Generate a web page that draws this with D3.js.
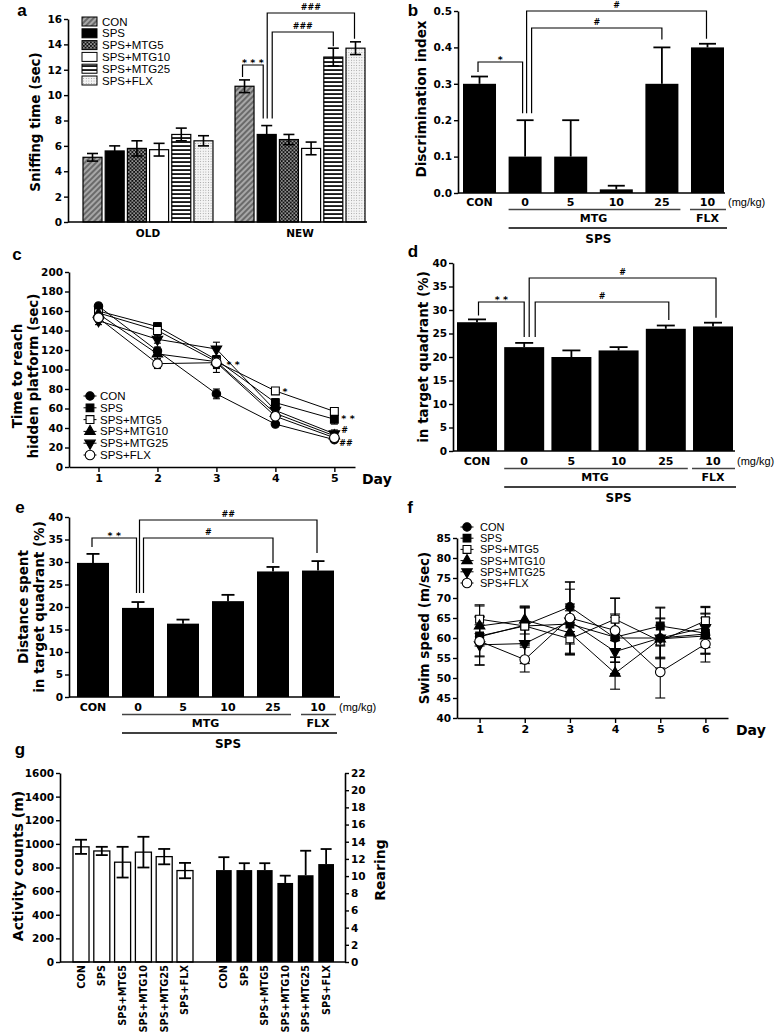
<!DOCTYPE html>
<html><head><meta charset="utf-8">
<script src="https://cdn.jsdelivr.net/npm/d3@7"></script>
<style>body{margin:0;background:#fff}svg{display:block}</style>
</head><body>
<svg id="fig" width="776" height="1035"></svg>
<script>
// ================= DATA =================
// panel a
const aGroups = ["OLD", "NEW"];
const aSeries = ["CON", "SPS", "SPS+MTG5", "SPS+MTG10", "SPS+MTG25", "SPS+FLX"];
const aOldMean = [5.1, 5.6, 5.8, 5.7, 6.9, 6.4];
const aOldErr  = [0.3, 0.4, 0.6, 0.5, 0.5, 0.4];
const aNewMean = [10.7, 6.9, 6.5, 5.8, 13.0, 13.7];
const aNewErr  = [0.5, 0.7, 0.4, 0.5, 0.7, 0.5];
const aTicks = [0, 2, 4, 6, 8, 10, 12, 14, 16];
// panels b, d, e
const doseLabels = ["CON", "0", "5", "10", "25", "10"];
const bMean = [0.30, 0.10, 0.10, 0.01, 0.30, 0.40];
const bErr  = [0.02, 0.10, 0.10, 0.01, 0.10, 0.01];
const bTicks = [0, 0.1, 0.2, 0.3, 0.4, 0.5];
const dMean = [27.4, 22.1, 20.0, 21.4, 26.0, 26.5];
const dErr  = [0.6, 0.9, 1.4, 0.7, 0.7, 0.8];
const eMean = [29.8, 19.8, 16.3, 21.3, 27.9, 28.1];
const eErr  = [2.0, 1.3, 0.9, 1.4, 1.0, 2.1];
const pctTicks = [0, 5, 10, 15, 20, 25, 30, 35, 40];
// panel c
const cDays = [1, 2, 3, 4, 5];
const cTicks = [0, 20, 40, 60, 80, 100, 120, 140, 160, 180, 200];
const cCON   = [165, 119, 75, 44, 28];
const cSPS   = [160, 144, 110, 66, 49];
const cMTG5  = [158, 140, 108, 78, 57];
const cMTG10 = [157, 116, 108, 55, 32];
const cMTG25 = [150, 131, 121, 58, 34];
const cFLX   = [153, 106, 107, 52, 30];
const cCONe   = [3, 4, 5, 2, 2];
const cSPSe   = [4, 4, 13, 4, 5];
const cMTG5e  = [4, 4, 5, 3, 3];
const cMTG10e = [4, 5, 6, 4, 3];
const cMTG25e = [4, 4, 7, 4, 4];
const cFLXe   = [4, 5, 6, 3, 3];
// panel f
const fDays = [1, 2, 3, 4, 5, 6];
const fTicks = [40, 45, 50, 55, 60, 65, 70, 75, 80, 85];
const fCON   = [60.3, 63.2, 67.8, 60.0, 60.0, 61.0];
const fSPS   = [60.5, 63.0, 63.5, 60.2, 63.0, 61.2];
const fMTG5  = [64.7, 63.0, 59.8, 64.7, 59.2, 64.3];
const fMTG10 = [63.0, 64.5, 61.3, 51.2, 59.8, 60.5];
const fMTG25 = [58.3, 58.6, 64.2, 56.6, 60.0, 62.6];
const fFLX   = [59.2, 54.6, 65.0, 61.9, 51.5, 58.5];
const fCONe   = [5.0, 4.5, 6.2, 6.0, 5.0, 5.0];
const fSPSe   = [5.0, 4.5, 5.0, 5.0, 4.7, 5.0];
const fMTG5e  = [3.6, 4.8, 4.0, 5.3, 4.0, 3.6];
const fMTG10e = [5.0, 3.5, 5.5, 4.0, 5.0, 4.5];
const fMTG25e = [5.0, 5.0, 8.0, 5.5, 7.5, 5.0];
const fFLXe   = [6.0, 3.1, 9.0, 8.0, 6.5, 4.5];
// panel g
const gLabels = ["CON", "SPS", "SPS+MTG5", "SPS+MTG10", "SPS+MTG25", "SPS+FLX"];
const gActivity    = [975, 940, 845, 930, 892, 774];
const gActivityErr = [60, 35, 130, 130, 65, 65];
const gRearing     = [10.7, 10.7, 10.7, 9.2, 10.1, 11.4];
const gRearingErr  = [1.5, 0.8, 0.8, 0.85, 2.85, 1.75];
const gLeftTicks  = [0, 200, 400, 600, 800, 1000, 1200, 1400, 1600];
const gRightTicks = [0, 2, 4, 6, 8, 10, 12, 14, 16, 18, 20, 22];

// ================= HELPERS =================
const TF = "'DejaVu Sans', Verdana, sans-serif";
const LF = "'Liberation Sans', Arial, sans-serif";
const svg = d3.select("#fig");
svg.append("rect").attr("width", 776).attr("height", 1035).attr("fill", "#fff");
const defs = svg.append("defs");
{
  const p1 = defs.append("pattern").attr("id", "hatch").attr("patternUnits", "userSpaceOnUse")
    .attr("width", 4).attr("height", 4).attr("patternTransform", "rotate(45)");
  p1.append("rect").attr("width", 4).attr("height", 4).attr("fill", "#6a6a6a");
  p1.append("line").attr("x1", 1).attr("y1", 0).attr("x2", 1).attr("y2", 4).attr("stroke", "#bcbcbc").attr("stroke-width", 1.5);
  const p2 = defs.append("pattern").attr("id", "check").attr("patternUnits", "userSpaceOnUse").attr("width", 3.6).attr("height", 3.6);
  p2.append("rect").attr("width", 3.6).attr("height", 3.6).attr("fill", "#111");
  p2.append("rect").attr("x", 0.3).attr("y", 0.3).attr("width", 1.3).attr("height", 1.3).attr("fill", "#fff");
  p2.append("rect").attr("x", 2.1).attr("y", 2.1).attr("width", 1.3).attr("height", 1.3).attr("fill", "#fff");
  const p3 = defs.append("pattern").attr("id", "hstripe").attr("patternUnits", "userSpaceOnUse").attr("width", 4).attr("height", 4);
  p3.append("rect").attr("width", 4).attr("height", 4).attr("fill", "#fff");
  p3.append("rect").attr("y", 1.2).attr("width", 4).attr("height", 1.7).attr("fill", "#000");
  const p4 = defs.append("pattern").attr("id", "dots").attr("patternUnits", "userSpaceOnUse").attr("width", 2.6).attr("height", 2.6);
  p4.append("rect").attr("width", 2.6).attr("height", 2.6).attr("fill", "#f4f4f4");
  p4.append("rect").attr("width", 0.9).attr("height", 0.9).attr("fill", "#9a9a9a");
}
const aFills = ["url(#hatch)", "#000", "url(#check)", "#fff", "url(#hstripe)", "url(#dots)"];
const MK = ["circle", "square", "squareOpen", "triUp", "triDown", "circleOpen"];

function L(g, x1, y1, x2, y2, w, c) {
  return g.append("line").attr("x1", x1).attr("y1", y1).attr("x2", x2).attr("y2", y2)
    .attr("stroke", c || "#000").attr("stroke-width", w || 1.5);
}
function T(g, x, y, s, o) {
  o = o || {};
  return g.append("text").attr("x", x).attr("y", y).text(s)
    .attr("font-family", o.f || TF).attr("font-weight", o.w || "bold")
    .attr("font-size", o.s || 11).attr("text-anchor", o.a || "middle").attr("fill", "#000");
}
function VT(g, x, y, s, size) {
  g.append("text").attr("transform", `translate(${x},${y}) rotate(-90)`)
    .attr("text-anchor", "middle").attr("dominant-baseline", "central")
    .attr("font-family", TF).attr("font-weight", "bold").attr("font-size", size || 13.5)
    .attr("fill", "#000").text(s);
}
function styleAx(a, fs) {
  a.select(".domain").attr("stroke", "#000").attr("stroke-width", 1.6);
  a.selectAll(".tick line").attr("stroke", "#000").attr("stroke-width", 1.4);
  a.selectAll(".tick text").attr("font-family", TF).attr("font-weight", "bold")
    .attr("font-size", fs || 10.5).attr("fill", "#000");
}
function yAxL(g, y, x, ticks, fmt) {
  const a = g.append("g").attr("transform", `translate(${x},0)`)
    .call(d3.axisLeft(y).tickValues(ticks).tickFormat(fmt).tickSize(4).tickSizeOuter(0).tickPadding(2));
  styleAx(a);
  return a;
}
function sig(g, x, yt, lab) {
  if (lab.includes("*")) T(g, x, yt + 0.5, lab.split("").join(" "), { s: 9.5 });
  else T(g, x, yt - 3, lab, { s: 8 });
}
function bracket(g, xl, ylb, xr, yrb, yt, lab) {
  g.append("path").attr("d", `M${xl},${ylb}V${yt}H${xr}V${yrb}`)
    .attr("fill", "none").attr("stroke", "#000").attr("stroke-width", 1.2);
  sig(g, (xl + xr) / 2, yt, lab);
}
function sigAt(g, x, yc, lab) {
  if (lab.includes("*")) T(g, x, yc + 5, lab.split("").join(" "), { s: 9.5, a: "start" });
  else T(g, x, yc + 3, lab, { s: 8, a: "start" });
}
function marker(g, t, x, y) {
  let sym = d3.symbolCircle, size = 56, fill = "#000", rot = 0;
  if (t === "circleOpen") { size = 72; fill = "#fff"; }
  if (t === "square") { sym = d3.symbolSquare; size = 60; }
  if (t === "squareOpen") { sym = d3.symbolSquare; size = 62; fill = "#fff"; }
  if (t === "triUp") { sym = d3.symbolTriangle; size = 48; }
  if (t === "triDown") { sym = d3.symbolTriangle; size = 48; rot = 180; }
  g.append("path").attr("d", d3.symbol(sym, size)())
    .attr("transform", `translate(${x},${y}) rotate(${rot})`)
    .attr("fill", fill).attr("stroke", "#000").attr("stroke-width", 1.1);
}
function letter(x, y, s) { T(svg, x, y, s, { f: LF, s: 17 }); }

// ================= PANEL a =================
{
  const g = svg.append("g");
  const y = d3.scaleLinear().domain([0, 16]).range([222, 19]);
  const gx = d3.scaleBand().domain(aGroups).range([83, 365]).paddingInner(0.145);
  const sx = d3.scaleBand().domain(aSeries).range([0, gx.bandwidth()]).paddingInner(0.144);
  const bw = sx.bandwidth();
  const means = [aOldMean, aNewMean], errs = [aOldErr, aNewErr];
  aGroups.forEach((grp, gi) => {
    g.append("g").selectAll("rect").data(aSeries).join("rect")
      .attr("x", s => gx(grp) + sx(s)).attr("y", (s, i) => y(means[gi][i]))
      .attr("width", bw).attr("height", (s, i) => y(0) - y(means[gi][i]))
      .attr("fill", (s, i) => aFills[i]).attr("stroke", "#000").attr("stroke-width", 1.2);
    aSeries.forEach((s, i) => {
      const cx = gx(grp) + sx(s) + bw / 2, m = means[gi][i], e = errs[gi][i];
      L(g, cx, y(m + e), cx, y(m - e), 1.6);
      L(g, cx - 5.5, y(m + e), cx + 5.5, y(m + e), 1.6);
      L(g, cx - 5.5, y(m - e), cx + 5.5, y(m - e), 1.6);
    });
    T(g, gx(grp) + gx.bandwidth() / 2, 237, grp, { s: 10.5 });
  });
  yAxL(g, y, 68, aTicks, d3.format("d"));
  L(g, 68, y(0), 367, y(0), 1.6);
  VT(g, 35, 122, "Sniffing time (sec)");
  aSeries.forEach((s, i) => {
    const yy = 21.5 + i * 11.8;
    g.append("rect").attr("x", 82).attr("y", yy - 4.5).attr("width", 15).attr("height", 9)
      .attr("fill", aFills[i]).attr("stroke", "#000").attr("stroke-width", 1);
    T(g, 102, yy + 4, s, { f: LF, w: "normal", s: 11.5, a: "start" });
  });
  const c = s => gx("NEW") + sx(s) + bw / 2;
  const top = i => y(aNewMean[i] + aNewErr[i]);
  bracket(g, c("CON") - 2, top(0) - 3, c("SPS") - 3.5, top(1) - 7, 65, "***");
  bracket(g, c("SPS") + 5.5, top(1) - 7, c("SPS+MTG25"), top(4) - 2, 32, "###");
  bracket(g, c("SPS") + 0.5, top(1) - 7, c("SPS+FLX") - 1, top(5) - 3, 13, "###");
  letter(22, 15.5, "a");
}

// ================= DOSE PANELS (b, d, e) =================
function dosePanel(o) {
  const g = svg.append("g");
  const y = d3.scaleLinear().domain(o.ydom).range(o.yr);
  const x = d3.scaleBand().domain(doseLabels.map((d, i) => i)).range(o.xr).paddingInner(o.pad);
  const bw = x.bandwidth(), cx = i => x(i) + bw / 2;
  g.append("g").selectAll("rect").data(o.mean).join("rect")
    .attr("x", (d, i) => x(i)).attr("y", d => y(d)).attr("width", bw)
    .attr("height", d => y(0) - y(d)).attr("fill", "#000");
  o.mean.forEach((m, i) => {
    const t = y(m + o.err[i]);
    L(g, cx(i), y(m), cx(i), t, 1.8);
    L(g, cx(i) - o.cap / 2, t, cx(i) + o.cap / 2, t, 1.8);
  });
  yAxL(g, y, o.ax, o.ticks, o.fmt);
  L(g, o.ax, y(0), o.axEnd, y(0), 1.6);
  doseLabels.forEach((s, i) => T(g, cx(i), o.ly + 4, s, { s: 11 }));
  T(g, o.mgx, o.ly + 4, "(mg/kg)", { f: LF, w: "normal", s: 11, a: "start" });
  const l1 = o.ly + 7.5;
  L(g, x(1), l1, x(4) + bw + 2, l1, 1.3, "#444");
  L(g, x(5) - 1, l1, x(5) + bw + 2, l1, 1.3, "#444");
  T(g, (x(1) + x(4) + bw) / 2, o.ly + 19.5, "MTG", { s: 11 });
  T(g, cx(5), o.ly + 19.5, "FLX", { s: 11 });
  L(g, x(1), o.ly + 26, x(5) + bw + 3, o.ly + 26, 1.3, "#000");
  T(g, (x(1) + x(5) + bw) / 2 + (o.spsOff || 0), o.ly + 41, "SPS", { s: 12 });
  return { g, y, cx, top: i => y(o.mean[i] + o.err[i]) };
}

// panel b
{
  const P = dosePanel({ ydom: [0, 0.5], yr: [193, 11], xr: [463, 724], pad: 0.276, ax: 458, axEnd: 725,
    ticks: bTicks, fmt: d3.format(".1f"), mean: bMean, err: bErr, cap: 17, ly: 202, mgx: 728, spsOff: -18 });
  VT(P.g, 421, 99, "Discrimination index");
  bracket(P.g, P.cx(0) - 1.5, P.top(0) - 4.5, P.cx(1) - 2.5, P.top(1) - 7, 62, "*");
  bracket(P.g, P.cx(1) + 6.5, P.top(1) - 7, P.cx(4), P.top(4) - 8, 28, "#");
  bracket(P.g, P.cx(1) + 1.5, P.top(1) - 7, P.cx(5) - 1, P.top(5) - 5, 11, "#");
  letter(413, 16, "b");
}
// panel d
{
  const P = dosePanel({ ydom: [0, 40], yr: [451, 263], xr: [457, 733], pad: 0.153, ax: 453, axEnd: 735,
    ticks: pctTicks, fmt: d3.format("d"), mean: dMean, err: dErr, cap: 18, ly: 461, mgx: 737 });
  VT(P.g, 423, 357, "in target quadrant (%)");
  bracket(P.g, P.cx(0) + 1.5, P.top(0) - 4, P.cx(1), P.top(1) - 6, 302, "**");
  bracket(P.g, P.cx(1) + 11, P.top(1) - 6, P.cx(4) + 3, P.top(4) - 5.5, 302, "#");
  bracket(P.g, P.cx(1) + 5, P.top(1) - 6, P.cx(5) + 3, P.top(5) - 5, 278, "#");
  letter(413, 257, "d");
}
// panel e
{
  const P = dosePanel({ ydom: [0, 40], yr: [697, 517], xr: [77, 334], pad: 0.289, ax: 69, axEnd: 340,
    ticks: pctTicks, fmt: d3.format("d"), mean: eMean, err: eErr, cap: 13, ly: 707, mgx: 339 });
  VT(P.g, 23, 607, "Distance spent");
  VT(P.g, 39, 607, "in target quadrant (%)");
  bracket(P.g, P.cx(0) - 1, P.top(0) - 7, P.cx(1) - 1.5, P.top(1) - 9, 538, "**");
  bracket(P.g, P.cx(1) + 5.5, P.top(1) - 9, P.cx(4), P.top(4) - 4, 538, "#");
  bracket(P.g, P.cx(1) + 1.5, P.top(1) - 9, P.cx(5) - 1, P.top(5) - 8, 520, "##");
  letter(20, 513, "e");
}

// ================= LINE PANELS (c, f) =================
function linePanel(o) {
  const g = svg.append("g");
  const x = d3.scaleLinear().domain(o.xdom).range(o.xr);
  const y = d3.scaleLinear().domain(o.ydom).range(o.yr);
  yAxL(g, y, o.xr[0], o.yticks, d3.format("d"));
  const xa = g.append("g").attr("transform", `translate(0,${o.yr[0]})`)
    .call(d3.axisBottom(x).tickValues(o.days).tickSize(5).tickSizeOuter(0).tickPadding(2).tickFormat(d3.format("d")));
  styleAx(xa, 11);
  T(g, o.dayX, o.yr[0] + 17, "Day", { s: 14, a: "start" });
  const line = d3.line().x(d => x(d[0])).y(d => y(d[1]));
  o.vals.forEach(v => {
    g.append("path").datum(o.days.map((d, i) => [d, v[i]])).attr("d", line)
      .attr("fill", "none").attr("stroke", "#000").attr("stroke-width", 1);
  });
  o.vals.forEach((v, k) => {
    o.days.forEach((d, i) => {
      const e = o.errs[k][i], cx = x(d);
      L(g, cx, y(v[i] + e), cx, y(v[i] - e), 1.1);
      L(g, cx - o.cap / 2, y(v[i] + e), cx + o.cap / 2, y(v[i] + e), 1.1);
      L(g, cx - o.cap / 2, y(v[i] - e), cx + o.cap / 2, y(v[i] - e), 1.1);
    });
  });
  o.vals.forEach((v, k) => o.days.forEach((d, i) => marker(g, MK[k], x(d), y(v[i]))));
  aSeries.forEach((s, k) => {
    const yy = o.legY + k * o.legDy;
    L(g, o.legX - 6.5, yy, o.legX + 6.5, yy, 1);
    marker(g, MK[k], o.legX, yy);
    T(g, o.legTX, yy + 4, s, { f: LF, w: "normal", s: o.legFs, a: "start" });
  });
  return { g, x, y };
}
// panel c
{
  const P = linePanel({ xdom: [0.5, 5.35], xr: [69, 355], ydom: [0, 200], yr: [467, 272], days: cDays,
    yticks: cTicks, vals: [cCON, cSPS, cMTG5, cMTG10, cMTG25, cFLX],
    errs: [cCONe, cSPSe, cMTG5e, cMTG10e, cMTG25e, cFLXe], cap: 7, dayX: 362,
    legX: 90, legTX: 100, legY: 396, legDy: 11.8, legFs: 11.5 });
  VT(P.g, 17, 376, "Time to reach");
  VT(P.g, 33, 376, "hidden platform (sec)");
  const x = P.x, y = P.y;
  sigAt(P.g, x(3) + 10, y(107), "**");
  sigAt(P.g, x(4) + 7, y(79), "*");
  sigAt(P.g, x(5) + 7, y(51), "**");
  sigAt(P.g, x(5) + 7, y(38), "#");
  sigAt(P.g, x(5) + 5, y(25), "##");
  letter(17, 260, "c");
}
// panel f
{
  const P = linePanel({ xdom: [0.5, 6.5], xr: [457, 728], ydom: [40, 85], yr: [718, 538], days: fDays,
    yticks: fTicks, vals: [fCON, fSPS, fMTG5, fMTG10, fMTG25, fFLX],
    errs: [fCONe, fSPSe, fMTG5e, fMTG10e, fMTG25e, fFLXe], cap: 10, dayX: 736,
    legX: 467, legTX: 480, legY: 527, legDy: 11.2, legFs: 11 });
  VT(P.g, 424, 628, "Swim speed (m/sec)");
  letter(410, 513, "f");
}

// ================= PANEL g =================
{
  const g = svg.append("g");
  const yl = d3.scaleLinear().domain([0, 1600]).range([962, 773]);
  const yr = d3.scaleLinear().domain([0, 22]).range([962, 773]);
  const xw = d3.scaleBand().domain(gLabels).range([73, 193]).paddingInner(0.23);
  const xb = d3.scaleBand().domain(gLabels).range([216, 334]).paddingInner(0.23);
  const bw = xw.bandwidth();
  g.append("g").selectAll("rect").data(gActivity).join("rect")
    .attr("x", (d, i) => xw(gLabels[i])).attr("y", d => yl(d)).attr("width", bw)
    .attr("height", d => yl(0) - yl(d)).attr("fill", "#fff").attr("stroke", "#000").attr("stroke-width", 1.3);
  gActivity.forEach((m, i) => {
    const cx = xw(gLabels[i]) + bw / 2, e = gActivityErr[i];
    L(g, cx, yl(m + e), cx, yl(m - e), 1.8);
    L(g, cx - 6, yl(m + e), cx + 6, yl(m + e), 1.8);
    L(g, cx - 6, yl(m - e), cx + 6, yl(m - e), 1.8);
  });
  g.append("g").selectAll("rect").data(gRearing).join("rect")
    .attr("x", (d, i) => xb(gLabels[i])).attr("y", d => yr(d)).attr("width", xb.bandwidth())
    .attr("height", d => yr(0) - yr(d)).attr("fill", "#000");
  gRearing.forEach((m, i) => {
    const cx = xb(gLabels[i]) + xb.bandwidth() / 2, e = gRearingErr[i];
    L(g, cx, yr(m), cx, yr(m + e), 1.8);
    L(g, cx - 5.5, yr(m + e), cx + 5.5, yr(m + e), 1.8);
  });
  yAxL(g, yl, 60, gLeftTicks, d3.format("d"));
  const ra = g.append("g").attr("transform", "translate(345,0)")
    .call(d3.axisRight(yr).tickValues(gRightTicks).tickFormat(d3.format("d")).tickSize(4).tickSizeOuter(0).tickPadding(2));
  styleAx(ra);
  L(g, 60, yl(0), 345, yl(0), 1.6);
  const lab = (x, s) => g.append("text").attr("transform", `translate(${x},965) rotate(-90)`)
    .attr("text-anchor", "end").attr("dominant-baseline", "central")
    .attr("font-family", TF).attr("font-weight", "bold").attr("font-size", 9.8).attr("fill", "#000").text(s);
  gLabels.forEach(s => { lab(xw(s) + bw / 2, s); lab(xb(s) + xb.bandwidth() / 2, s); });
  VT(g, 18, 866, "Activity counts (m)", 14);
  VT(g, 380, 870, "Rearing", 14);
  letter(20, 755, "g");
}
</script>
</body></html>
